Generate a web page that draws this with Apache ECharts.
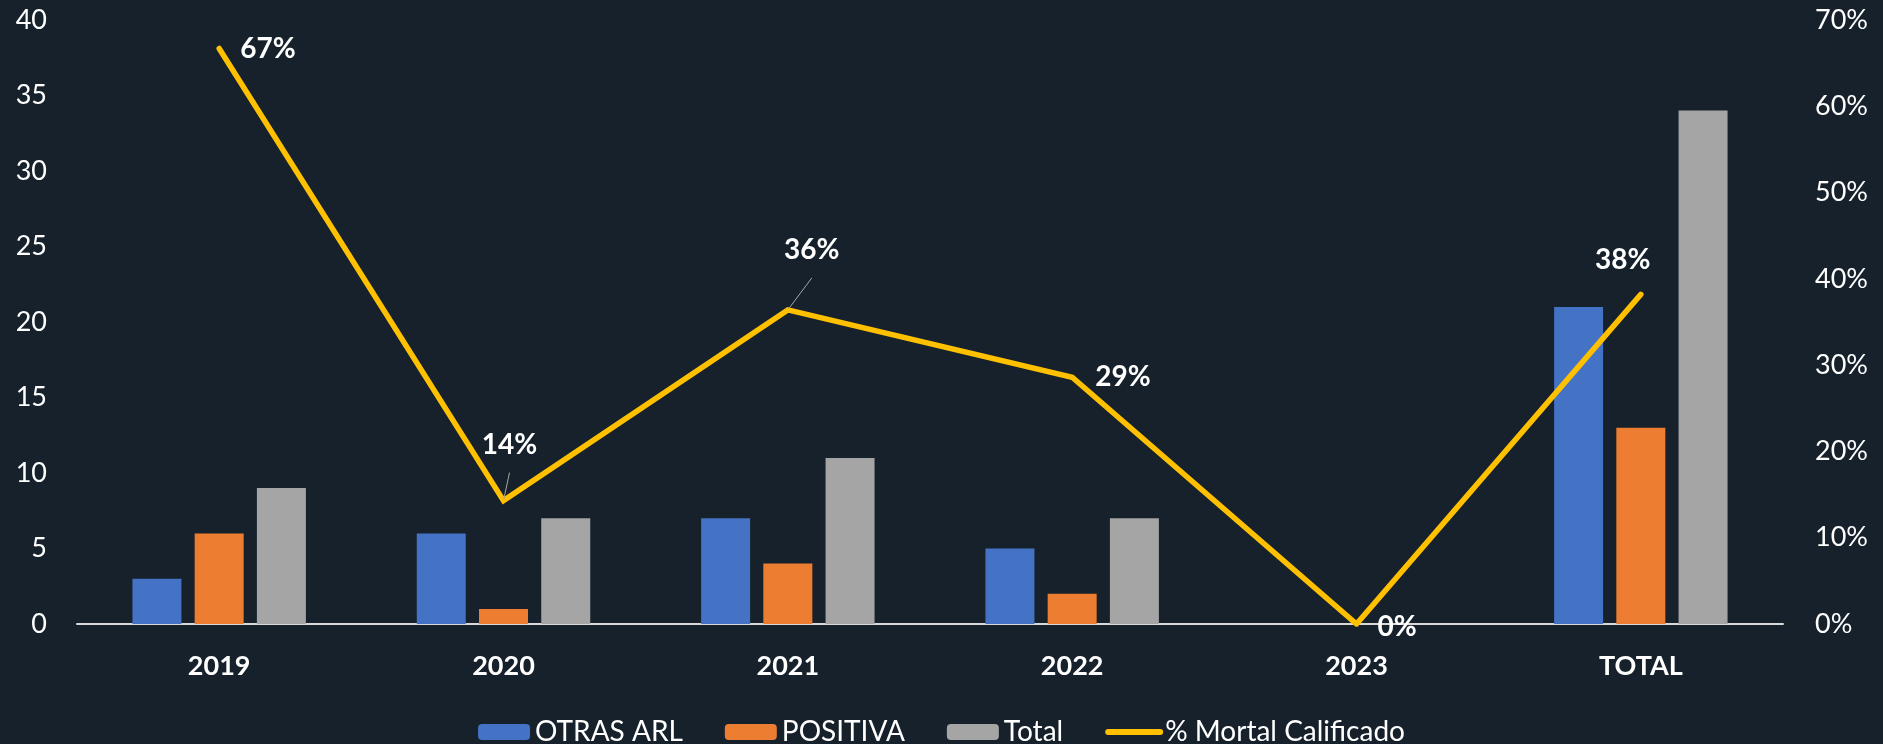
<!DOCTYPE html>
<html>
<head>
<meta charset="utf-8">
<script src="https://cdn.jsdelivr.net/npm/echarts@6/dist/echarts.min.js"></script>
<style>
  html, body { margin: 0; padding: 0; background: #16212b; }
  #chart { width: 1883px; height: 744px; }
</style>
</head>
<body>
<div id="chart"></div>
<script>
const categories = ['2019', '2020', '2021', '2022', '2023', 'TOTAL']
const otrasArl = [3, 6, 7, 5, 0, 21]
const positiva = [6, 1, 4, 2, 0, 13]
const total = [9, 7, 11, 7, 0, 34]
const mortalPct = [0.667, 0.143, 0.364, 0.286, 0, 0.382]

// where each percentage label sits relative to its point
const pctLabels = [
  { position: 'right', distance: 20 },
  { position: 'top', offset: [6, -36], guide: true },
  { position: 'top', offset: [24, -40], guide: true },
  { position: 'right', distance: 22 },
  { position: 'right', distance: 20, offset: [0, 3] },
  { position: 'top', offset: [-18, -14] }
]

const font = 'Lato'

const chart = echarts.init(document.getElementById('chart'))

chart.setOption({
  backgroundColor: '#16212b',
  animation: false,
  textStyle: { fontFamily: font },
  grid: { left: 77, right: 100, top: 20, bottom: 120 },
  legend: {
    left: 'center',
    top: 713,
    itemWidth: 52,
    itemHeight: 16,
    itemGap: 42,
    textStyle: { color: '#ffffff', fontSize: 28, fontFamily: font },
    data: [
      'OTRAS ARL',
      'POSITIVA',
      'Total',
      {
        name: '% Mortal Calificado',
        itemStyle: { opacity: 0 },
        lineStyle: { width: 6, cap: 'round' }
      }
    ]
  },
  xAxis: {
    type: 'category',
    data: categories,
    axisTick: { show: false },
    axisLine: { lineStyle: { color: '#d9d9d9', width: 2 } },
    axisLabel: {
      color: '#ffffff',
      fontSize: 27,
      fontWeight: 'bold',
      fontFamily: font,
      margin: 29
    }
  },
  yAxis: [
    {
      type: 'value',
      min: 0,
      max: 40,
      interval: 5,
      splitLine: { show: false },
      axisLine: { show: false },
      axisLabel: { color: '#ffffff', fontSize: 27, fontFamily: font, margin: 30 }
    },
    {
      type: 'value',
      min: 0,
      max: 0.7,
      interval: 0.1,
      splitLine: { show: false },
      axisLine: { show: false },
      axisLabel: {
        color: '#ffffff',
        fontSize: 27,
        fontFamily: font,
        margin: 32,
        formatter: v => Math.round(v * 100) + '%'
      }
    }
  ],
  series: [
    {
      name: 'OTRAS ARL',
      type: 'bar',
      data: otrasArl,
      barWidth: 49,
      barGap: '27%',
      itemStyle: { color: '#4472c4' }
    },
    {
      name: 'POSITIVA',
      type: 'bar',
      data: positiva,
      barWidth: 49,
      barGap: '27%',
      itemStyle: { color: '#ed7d31' }
    },
    {
      name: 'Total',
      type: 'bar',
      data: total,
      barWidth: 49,
      barGap: '27%',
      itemStyle: { color: '#a5a5a5' }
    },
    {
      name: '% Mortal Calificado',
      type: 'line',
      yAxisIndex: 1,
      symbol: 'circle',
      symbolSize: 2,
      z: 5,
      lineStyle: { color: '#ffc000', width: 5.5, cap: 'round', join: 'miter' },
      itemStyle: { color: '#ffc000' },
      data: mortalPct.map((v, i) => {
        const cfg = pctLabels[i]
        return {
          value: v,
          label: {
            position: cfg.position,
            distance: cfg.distance || 5,
            offset: cfg.offset || [0, 0]
          },
          labelLine: {
            show: !!cfg.guide,
            lineStyle: { color: '#a6a6a6', width: 1 }
          }
        }
      }),
      label: {
        show: true,
        color: '#ffffff',
        fontSize: 28,
        fontWeight: 'bold',
        fontFamily: font,
        formatter: p => Math.round(p.value * 100) + '%'
      }
    }
  ]
})
</script>
</body>
</html>
